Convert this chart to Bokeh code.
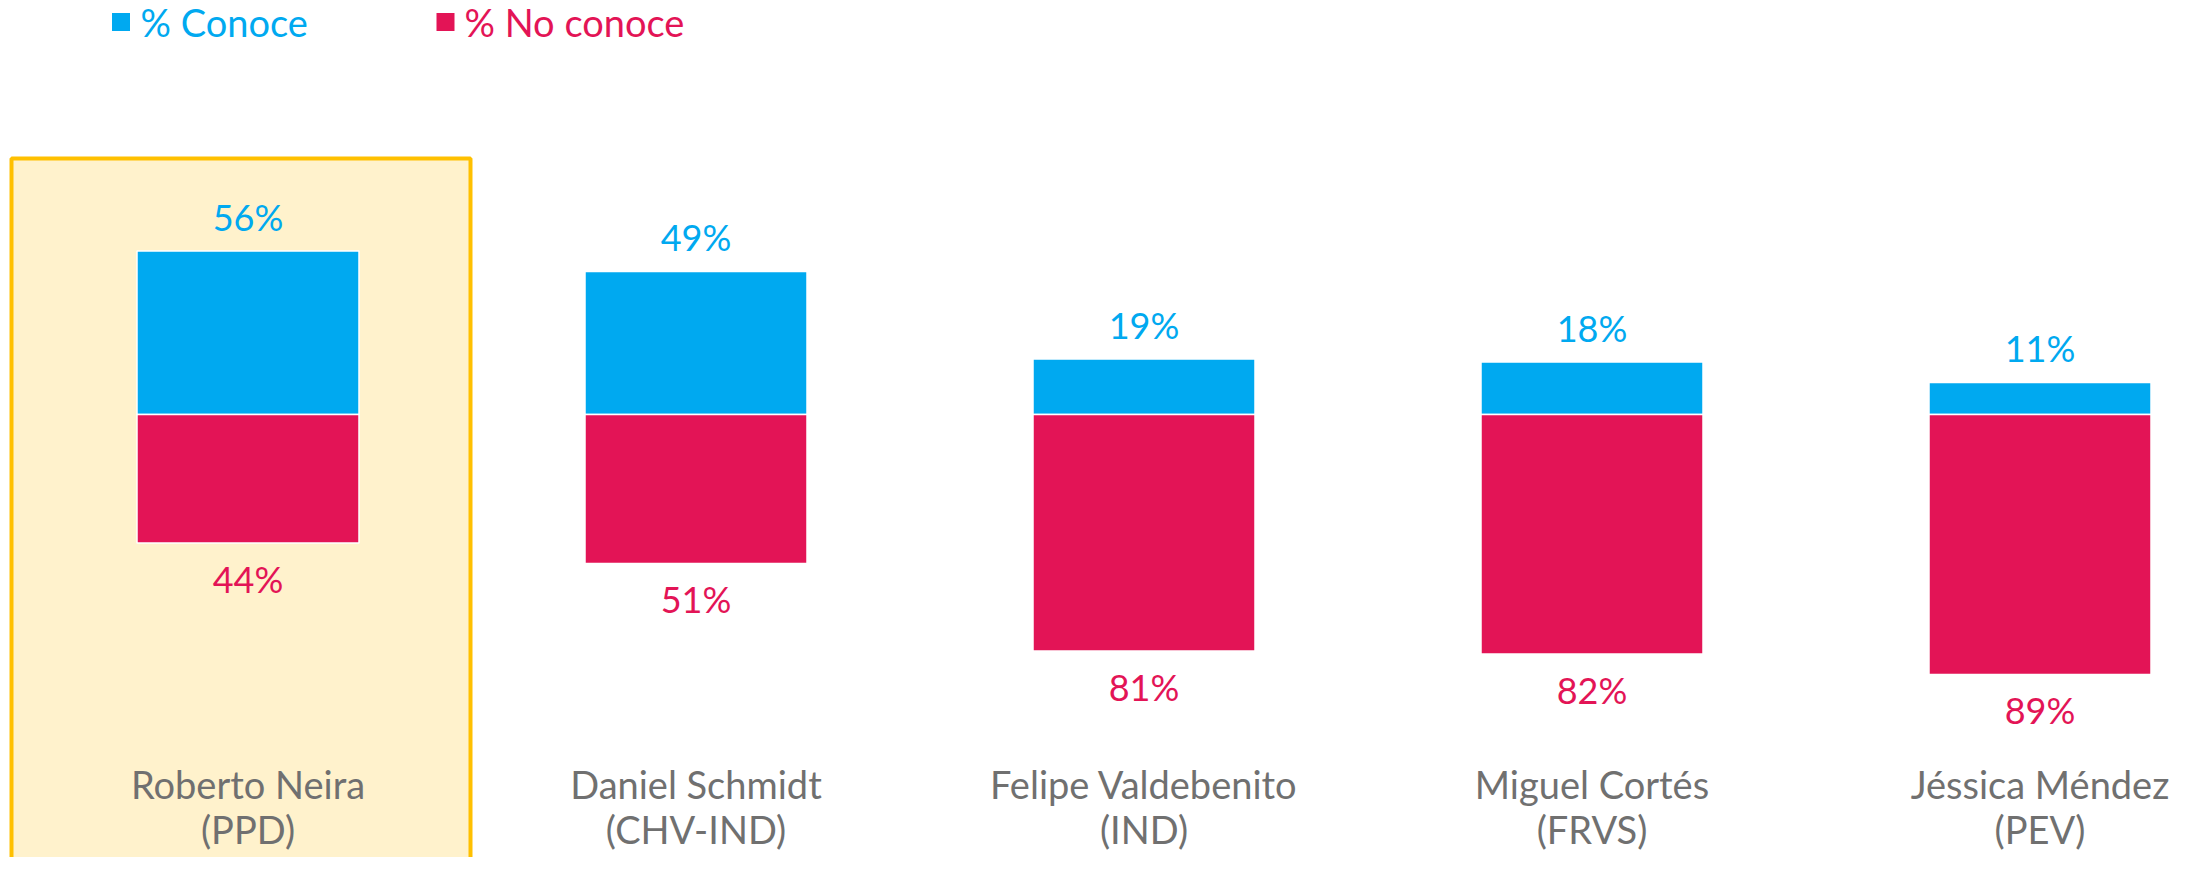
from bokeh.plotting import figure
from bokeh.models import ColumnDataSource
from bokeh.core.properties import value
from bokeh.embed import file_html
from bokeh.resources import INLINE

# ---- data ----
candidates = ["Roberto Neira", "Daniel Schmidt", "Felipe Valdebenito", "Miguel Cortés", "Jéssica Méndez"]
parties = ["(PPD)", "(CHV-IND)", "(IND)", "(FRVS)", "(PEV)"]
conoce = [56, 49, 19, 18, 11]
no_conoce = [44, 51, 81, 82, 89]
series_names = ["% Conoce", "% No conoce"]

BLUE = "#00A9F0"
PINK = "#E31456"
GREY = "#707070"
FONT = "Lato"

W, H = 2185, 857
PX_PER_X = 448.0      # pixels per category
PX_PER_Y = 2.92       # pixels per percentage point
CX0 = 247.5           # pixel of first category centre
BASE = 414            # pixel of the zero line

x_start = -CX0 / PX_PER_X
x_end = (W - CX0) / PX_PER_X
y_end = BASE / PX_PER_Y
y_start = y_end - H / PX_PER_Y

def dy(px):
    return px / PX_PER_Y

def dx(px):
    return px / PX_PER_X

xs = list(range(len(candidates)))
src = ColumnDataSource(dict(
    x=xs,
    conoce=conoce,
    neg=[-v for v in no_conoce],
    lab_c=[f"{v}%" for v in conoce],
    lab_n=[f"{v}%" for v in no_conoce],
    y_lab_c=[v + dy(34) for v in conoce],
    y_lab_n=[-v - dy(36) for v in no_conoce],
    name=candidates,
    party=parties,
    y_name=[y_end - dy(783)] * len(candidates),
    y_party=[y_end - dy(828)] * len(candidates),
))

p = figure(width=W, height=H, x_range=(x_start, x_end), y_range=(y_start, y_end),
           output_backend="svg", toolbar_location=None, min_border=0,
           background_fill_color="white", border_fill_color="white")
p.axis.visible = False
p.grid.visible = False
p.outline_line_color = None

# highlight box around first candidate
p.quad(left=[x_start + dx(11)], right=[x_start + dx(470)],
       top=[y_end - dy(158)], bottom=[y_start - 20],
       fill_color="#FFF2CC", line_color="#FFC000", line_width=4)

bw = 222 / PX_PER_X
p.vbar(x="x", top="conoce", bottom=0, width=bw, source=src,
       fill_color=BLUE, line_color="white", line_width=1.5)
p.vbar(x="x", top=0, bottom="neg", width=bw, source=src,
       fill_color=PINK, line_color="white", line_width=1.5)

p.text(x="x", y="y_lab_c", text="lab_c", source=src, text_align="center",
       text_baseline="alphabetic", text_color=BLUE, text_font=value(FONT),
       text_font_size="36px")
p.text(x="x", y="y_lab_n", text="lab_n", source=src, text_align="center",
       text_baseline="alphabetic", text_color=PINK, text_font=value(FONT),
       text_font_size="36px")

p.text(x="x", y="y_name", text="name", source=src, text_align="center",
       text_baseline="alphabetic", text_color=GREY, text_font=value(FONT),
       text_font_size="38px")
p.text(x="x", y="y_party", text="party", source=src, text_align="center",
       text_baseline="alphabetic", text_color=GREY, text_font=value(FONT),
       text_font_size="38px")

# legend (manual, coloured labels)
leg_y_sq = y_end - dy(21.5)
leg_y_tx = y_end - dy(21)
sq_px = [120.5, 445]
tx_px = [140, 464]
cols = [BLUE, PINK]
for name, sxp, txp, c in zip(series_names, sq_px, tx_px, cols):
    p.scatter(x=[x_start + dx(sxp)], y=[leg_y_sq], marker="square", size=18,
              fill_color=c, line_color=None)
    p.text(x=[x_start + dx(txp)], y=[leg_y_tx], text=[name], text_align="left",
           text_baseline="alphabetic", text_color=c, text_font=value(FONT),
           text_font_size="38px")

open("out.html", "w").write(file_html(p, INLINE))
